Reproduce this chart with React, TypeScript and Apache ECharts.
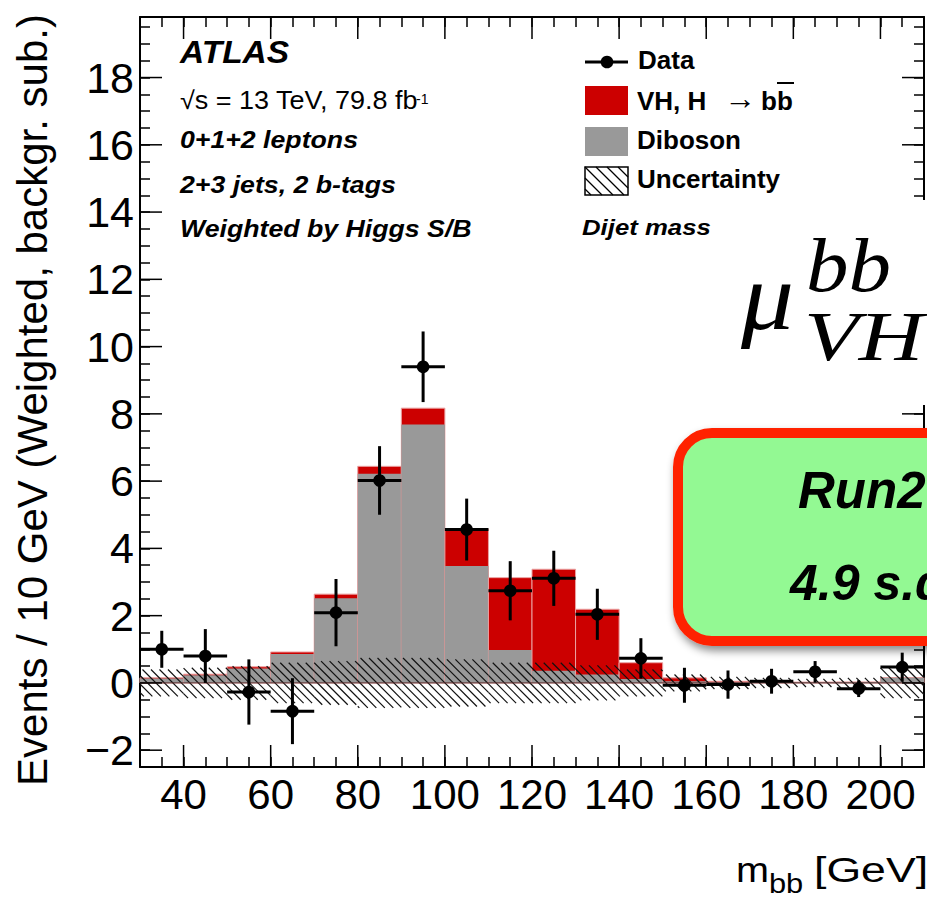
import React, { useEffect, useRef } from 'react';
import * as echarts from 'echarts';

// ---- data ----
const binCenters = [35, 45, 55, 65, 75, 85, 95, 105, 115, 125, 135, 145, 155, 165, 175, 185, 195, 205];
const dibosonVals = [0.13, 0.23, 0.43, 0.86, 2.52, 6.22, 7.68, 3.48, 0.98, 0.36, 0.25, 0.12, 0.05, 0.02, 0.02, 0.02, 0.03, 0.15];
const vhVals = [0.02, 0.03, 0.05, 0.06, 0.12, 0.22, 0.49, 1.1, 2.15, 3.02, 1.94, 0.48, 0.1, 0.03, 0.01, 0.005, 0.0, 0.01];
const uncVals = [0.4, 0.45, 0.5, 0.6, 0.65, 0.74, 0.74, 0.7, 0.6, 0.6, 0.52, 0.4, 0.25, 0.18, 0.15, 0.12, 0.15, 0.45];
const dataVals = [1.0, 0.8, -0.27, -0.84, 2.09, 6.02, 9.4, 4.56, 2.74, 3.11, 2.04, 0.73, -0.07, -0.05, 0.05, 0.33, -0.17, 0.47];
const dataErrs = [0.55, 0.8, 0.97, 0.98, 1.0, 1.02, 1.05, 0.92, 0.88, 0.82, 0.76, 0.6, 0.52, 0.42, 0.37, 0.32, 0.25, 0.43];
const xMajorTicks = [40, 60, 80, 100, 120, 140, 160, 180, 200];
const yMajorTicks = [-2, 0, 2, 4, 6, 8, 10, 12, 14, 16, 18];

const X_MIN = 30;
const X_MAX = 210;
const Y_MIN = -2.5;
const Y_MAX = 19.8;
const HALF_BIN = 5;

const SANS = '"Liberation Sans", Arial, Helvetica, sans-serif';
const SERIF = '"Liberation Serif", "Times New Roman", serif';

function hatchSegments(x0: number, y0: number, x1: number, y1: number, step: number) {
  const out: number[][] = [];
  const cmin = x0 - y1;
  const cmax = x1 - y0;
  for (let k = Math.ceil(cmin / step); k <= Math.floor(cmax / step); k++) {
    const c = k * step;
    const xa = Math.max(x0, y0 + c);
    const xb = Math.min(x1, y1 + c);
    if (xb - xa > 0.5) out.push([xa, xa - c, xb, xb - c]);
  }
  return out;
}

function txt(text: string, x: number, baseline: number, size: number, opts: any = {}) {
  const style: any = {
    text,
    x: 0,
    y: 0,
    fill: opts.fill || '#000',
    fontSize: size,
    fontFamily: opts.family || SANS,
    fontWeight: opts.weight || 'normal',
    fontStyle: opts.style || 'normal',
    align: 'left',
    verticalAlign: 'middle',
  };
  if (opts.lineHeight) style.lineHeight = opts.lineHeight;
  return {
    type: 'text',
    x,
    y: baseline - 0.35 * size,
    scaleX: opts.scaleX || 1,
    z: 100,
    style,
  };
}

function line(x1: number, y1: number, x2: number, y2: number, w: number, color = '#000') {
  return { type: 'line', z: 100, shape: { x1, y1, x2, y2 }, style: { stroke: color, lineWidth: w } };
}

export default function App() {
  const ref = useRef<HTMLDivElement>(null);

  useEffect(() => {
    if (!ref.current) return;
    const chart = echarts.init(ref.current, undefined, { renderer: 'svg' });

    const yLabel = (v: number) => {
      const r = Math.round(v);
      if (Math.abs(v - r) > 1e-6 || r % 2 !== 0 || r < -2 || r > 18) return '';
      return r < 0 ? '\u2212' + Math.abs(r) : String(r);
    };
    const xLabel = (v: number) => {
      const r = Math.round(v);
      if (Math.abs(v - r) > 1e-6 || r % 20 !== 0 || r < 40 || r > 200) return '';
      return String(r);
    };

    const axisCommon = {
      type: 'value',
      axisLine: { show: true, onZero: false, lineStyle: { color: '#000', width: 2 } },
      axisTick: { show: true, inside: true, length: 10, lineStyle: { color: '#000', width: 1.5 } },
      splitLine: { show: false },
    };

    // legend hatch box
    const lgX0 = 585, lgY0 = 167, lgX1 = 628, lgY1 = 195;
    const legendHatch = hatchSegments(lgX0, lgY0, lgX1, lgY1, 11).map((s) => line(s[0], s[1], s[2], s[3], 1.3));

    const option: any = {
      animation: false,
      grid: { left: 140, top: 17, width: 788, height: 750, containLabel: false },
      xAxis: [
        {
          ...axisCommon,
          position: 'bottom',
          min: X_MIN,
          max: X_MAX,
          interval: 5,
          axisLabel: { formatter: xLabel, fontSize: 42, color: '#000', fontFamily: SANS, margin: 6 },
        },
        {
          ...axisCommon,
          position: 'top',
          min: X_MIN,
          max: X_MAX,
          interval: 5,
          axisLabel: { show: false },
        },
      ],
      yAxis: [
        {
          ...axisCommon,
          position: 'left',
          min: Y_MIN,
          max: Y_MAX,
          interval: 0.5,
          axisLabel: { formatter: yLabel, fontSize: 43, color: '#000', fontFamily: SANS, margin: 6 },
          name: 'Events / 10 GeV (Weighted, backgr. sub.)',
          nameLocation: 'middle',
          nameGap: 87,
          nameTextStyle: { fontSize: 42, color: '#000', fontFamily: SANS, padding: [0, 16, 0, 0] },
        },
        {
          ...axisCommon,
          position: 'right',
          min: Y_MIN,
          max: Y_MAX,
          interval: 0.5,
          axisLabel: { show: false },
        },
      ],
      series: [
        {
          type: 'custom',
          name: 'stack',
          z: 2,
          data: binCenters.map((c, i) => [c, dibosonVals[i], vhVals[i]]),
          renderItem: (params: any, api: any) => {
            const c = api.value(0);
            const d = api.value(1);
            const s = api.value(2);
            const a = api.coord([c - HALF_BIN, 0]);
            const t = api.coord([c + HALF_BIN, d + s]);
            const g = api.coord([c + HALF_BIN, d]);
            return {
              type: 'group',
              children: [
                {
                  type: 'rect',
                  shape: { x: a[0], y: t[1], width: t[0] - a[0], height: a[1] - t[1] },
                  style: { fill: '#cc0000', stroke: '#eaa2a2', lineWidth: 1 },
                },
                {
                  type: 'rect',
                  shape: { x: a[0], y: g[1], width: g[0] - a[0], height: a[1] - g[1] },
                  style: { fill: '#999999' },
                },
              ],
            };
          },
        },
        {
          type: 'custom',
          name: 'Uncertainty',
          z: 3,
          data: binCenters.map((c, i) => [c, uncVals[i]]),
          renderItem: (params: any, api: any) => {
            const c = api.value(0);
            const u = api.value(1);
            const tl = api.coord([c - HALF_BIN, u]);
            const br = api.coord([c + HALF_BIN, -u]);
            const segs = hatchSegments(tl[0], tl[1], br[0], br[1], 8.5);
            return {
              type: 'group',
              children: segs.map((s) => ({
                type: 'line',
                shape: { x1: s[0], y1: s[1], x2: s[2], y2: s[3] },
                style: { stroke: '#111', lineWidth: 1.2 },
              })),
            };
          },
        },
        {
          type: 'line',
          name: 'zero',
          z: 4,
          symbol: 'none',
          data: [[X_MIN, 0], [X_MAX, 0]],
          lineStyle: { color: '#5c2b2b', width: 1 },
        },
        {
          type: 'custom',
          name: 'majorTicks',
          z: 5,
          data: [...xMajorTicks.map((v) => [v, 0]), ...yMajorTicks.map((v) => [v, 1])],
          renderItem: (params: any, api: any) => {
            const v = api.value(0);
            const kind = api.value(1);
            const st = { stroke: '#000', lineWidth: 1.5 };
            if (kind === 0) {
              const b = api.coord([v, Y_MIN]);
              const t = api.coord([v, Y_MAX]);
              return {
                type: 'group',
                children: [
                  { type: 'line', shape: { x1: b[0], y1: b[1], x2: b[0], y2: b[1] - 22 }, style: st },
                  { type: 'line', shape: { x1: t[0], y1: t[1], x2: t[0], y2: t[1] + 22 }, style: st },
                ],
              };
            }
            const l = api.coord([X_MIN, v]);
            const r = api.coord([X_MAX, v]);
            return {
              type: 'group',
              children: [
                { type: 'line', shape: { x1: l[0], y1: l[1], x2: l[0] + 22, y2: l[1] }, style: st },
                { type: 'line', shape: { x1: r[0], y1: r[1], x2: r[0] - 22, y2: r[1] }, style: st },
              ],
            };
          },
        },
        {
          type: 'custom',
          name: 'Data',
          z: 6,
          data: binCenters.map((c, i) => [c, dataVals[i], dataErrs[i]]),
          renderItem: (params: any, api: any) => {
            const c = api.value(0);
            const v = api.value(1);
            const e = api.value(2);
            const p = api.coord([c, v]);
            const pl = api.coord([c - HALF_BIN, v]);
            const pr = api.coord([c + HALF_BIN, v]);
            const pt = api.coord([c, v + e]);
            const pb = api.coord([c, v - e]);
            const st = { stroke: '#000', lineWidth: 3 };
            return {
              type: 'group',
              children: [
                { type: 'line', shape: { x1: pl[0], y1: pl[1], x2: pr[0], y2: pr[1] }, style: st },
                { type: 'line', shape: { x1: pt[0], y1: pt[1], x2: pb[0], y2: pb[1] }, style: st },
                { type: 'circle', shape: { cx: p[0], cy: p[1], r: 6.3 }, style: { fill: '#000' } },
              ],
            };
          },
        },
      ],
      graphic: [
        // top-left labels
        txt('ATLAS', 180, 63, 31, { weight: 'bold', style: 'italic', scaleX: 1.08 }),
        txt('\u221As = 13 TeV, 79.8 fb', 180, 109, 25, { scaleX: 1.08 }),
        txt('-1', 416, 104, 14),
        txt('0+1+2 leptons', 180, 148, 24.5, { weight: 'bold', style: 'italic', scaleX: 1.09 }),
        txt('2+3 jets, 2 b-tags', 180, 193, 24.5, { weight: 'bold', style: 'italic', scaleX: 1.09 }),
        txt('Weighted by Higgs S/B', 180, 237, 24.5, { weight: 'bold', style: 'italic', scaleX: 1.09 }),
        // legend
        line(585, 62, 628, 62, 3),
        { type: 'circle', z: 100, shape: { cx: 607, cy: 62, r: 6.3 }, style: { fill: '#000' } },
        txt('Data', 638, 69, 26, { weight: 'bold' }),
        { type: 'rect', z: 100, shape: { x: 585, y: 86, width: 43, height: 29 }, style: { fill: '#cc0000' } },
        txt('VH, H', 637, 110, 26, { weight: 'bold' }),
        txt('\u2192', 724, 109, 32),
        txt('bb', 761, 110, 26, { weight: 'bold' }),
        line(777, 83, 794, 83, 2),
        { type: 'rect', z: 100, shape: { x: 585, y: 127, width: 43, height: 29 }, style: { fill: '#999999' } },
        txt('Diboson', 637, 149, 26, { weight: 'bold' }),
        {
          type: 'rect',
          z: 100,
          shape: { x: lgX0, y: lgY0, width: lgX1 - lgX0, height: lgY1 - lgY0 },
          style: { fill: '#fff', stroke: '#000', lineWidth: 1.5 },
        },
        ...legendHatch,
        txt('Uncertainty', 637, 188, 26, { weight: 'bold' }),
        txt('Dijet mass', 582, 235, 23, { weight: 'bold', style: 'italic', scaleX: 1.12 }),
        // mu formula on white
        { type: 'rect', z: 99, shape: { x: 722, y: 200, width: 210, height: 205 }, style: { fill: '#fff' } },
        txt('\u03BC', 741, 330, 96, { family: SERIF, style: 'italic', scaleX: 1.1, lineHeight: 60 }),
        txt('bb', 806, 292, 76, { family: SERIF, style: 'italic', scaleX: 1.12, lineHeight: 48 }),
        txt('VH', 804, 361, 70, { family: SERIF, style: 'italic', scaleX: 1.28, lineHeight: 46 }),
        // green box
        {
          type: 'rect',
          z: 100,
          shape: { x: 678, y: 433, width: 400, height: 208, r: 34 },
          style: {
            fill: '#93f993',
            stroke: '#ff2400',
            lineWidth: 10,
            shadowBlur: 8,
            shadowOffsetX: 2,
            shadowOffsetY: 5,
            shadowColor: 'rgba(0,0,0,0.45)',
          },
        },
        txt('Run2', 798, 508, 51, { weight: 'bold', style: 'italic' }),
        txt('4.9 s.d.', 790, 600, 50, { weight: 'bold', style: 'italic' }),
        // x-axis title
        txt('m', 736, 882, 36, { scaleX: 1.1, lineHeight: 30 }),
        txt('bb', 769, 893, 28, { scaleX: 1.1, lineHeight: 22 }),
        txt('[GeV]', 814, 882, 36, { scaleX: 1.24, lineHeight: 30 }),
      ],
    };

    chart.setOption(option);
    return () => chart.dispose();
  }, []);

  return (
    <div
      ref={ref}
      style={{ position: 'absolute', left: 0, top: 0, width: 927, height: 898, background: '#fff' }}
    />
  );
}
